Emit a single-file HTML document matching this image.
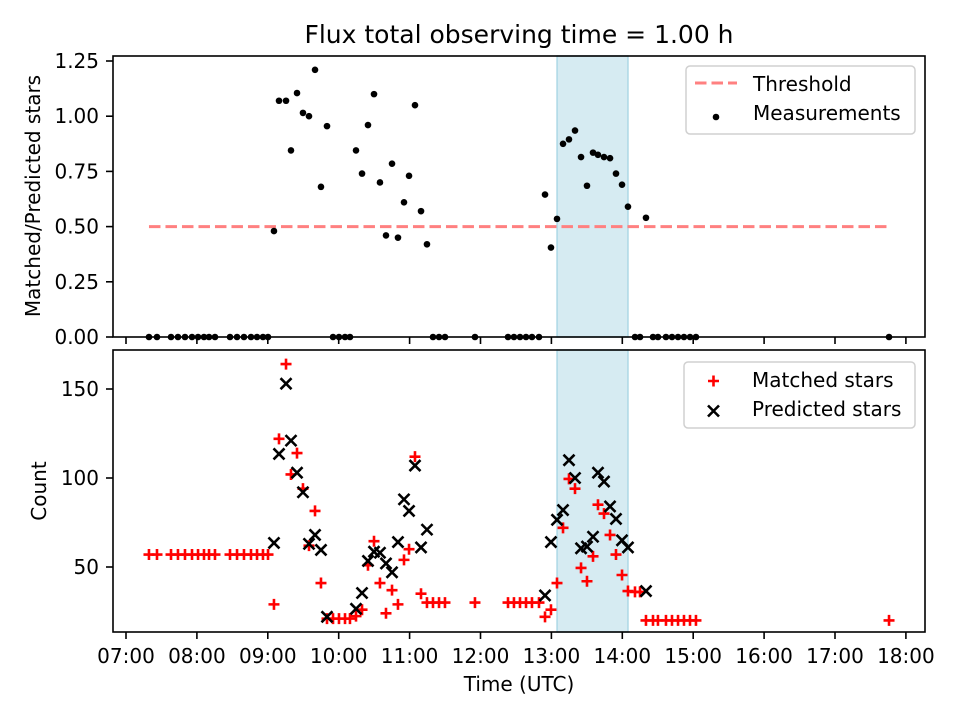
<!DOCTYPE html>
<html><head><meta charset="utf-8"><style>
html,body{margin:0;padding:0;background:#fff;}
svg{display:block;font-family:"DejaVu Sans","Liberation Sans",sans-serif;}
</style></head><body>
<svg id="chart" width="960" height="720" viewBox="0 0 960 720" xmlns="http://www.w3.org/2000/svg">
<rect width="960" height="720" fill="#fff"/>
<text x="519" y="43" font-size="25" text-anchor="middle">Flux total observing time = 1.00 h</text>
<g id="top"></g>
<g id="bottom"></g>
<text x="519" y="691" font-size="20" text-anchor="middle">Time (UTC)</text>
<text transform="translate(40,196) rotate(-90)" font-size="20" text-anchor="middle">Matched/Predicted stars</text>
<text transform="translate(46,491) rotate(-90)" font-size="20" text-anchor="middle">Count</text>
</svg>
<script>
// time in decimal hours
const times = [7.324,7.437,7.635,7.733,7.832,7.931,8.016,8.100,8.171,8.255,8.467,8.566,8.664,8.763,8.848,8.932,9.003,
9.087,9.158,9.257,9.327,9.412,9.496,9.581,9.666,9.750,9.835,
9.920,10.004,10.089,10.159,
10.244,10.329,10.413,10.498,10.582,10.667,10.752,10.836,10.921,10.992,11.076,11.161,11.245,
11.330,11.415,11.499,11.922,
12.388,12.472,12.557,12.642,12.726,12.825,
12.910,12.994,13.079,13.164,13.248,13.333,13.418,13.502,13.587,13.657,13.742,13.827,13.911,13.996,14.080,
14.179,14.250,14.334,
14.433,14.503,14.616,14.701,14.786,14.870,14.955,15.039,
17.762];
const ratios = [0,0,0,0,0,0,0,0,0,0,0,0,0,0,0,0,0,
0.48,1.07,1.07,0.845,1.105,1.015,1.0,1.21,0.68,0.955,
0,0,0,0,
0.845,0.74,0.96,1.10,0.70,0.46,0.785,0.45,0.61,0.73,1.05,0.57,0.42,
0,0,0,0,
0,0,0,0,0,0,
0.645,0.405,0.535,0.875,0.895,0.935,0.815,0.685,0.835,0.825,0.815,0.81,0.74,0.69,0.59,
0,0,0.54,
0,0,0,0,0,0,0,0,
0];
const matched = [57,57,57,57,57,57,57,57,57,57,57,57,57,57,57,57,57,
29,122,164,102,114,94,62,81.5,41,21,
21,21,21,21,
22.4,26,51,64.5,41,24,37,29,54,60,112,35,30,
30,30,30,30,
30,30,30,30,30,30,
22,26,41,72,99.5,94,49.5,42,56,85,80,68,57,45.5,36.5,
36,36,20,
20,20,20,20,20,20,20,20,
20];
const predicted = [null,null,null,null,null,null,null,null,null,null,null,null,null,null,null,null,null,
63.5,113.5,153,121,103,92,63,68,59.6,22,
null,null,null,null,
26.5,35.4,53.4,58.6,58,52,47,64,88,81.5,107,61,71,
null,null,null,null,
null,null,null,null,null,null,
34,64,76.5,82,110,100,60.5,61.5,67,103,98,84,77,65,61,
null,null,36.5,
null,null,null,null,null,null,null,null,
null];
const threshold = [0.5];
const span = [13.08, 14.08];
const xTicks = [7,8,9,10,11,12,13,14,15,16,17,18];
const xTickLabels = ["07:00","08:00","09:00","10:00","11:00","12:00","13:00","14:00","15:00","16:00","17:00","18:00"];
const topTicks = [0,0.25,0.5,0.75,1.0,1.25];
const topTickLabels = ["0.00","0.25","0.50","0.75","1.00","1.25"];
const botTicks = [50,100,150];
const botTickLabels = ["50","100","150"];

const NS="http://www.w3.org/2000/svg";
function el(tag,attrs,parent){const e=document.createElementNS(NS,tag);for(const k in attrs)e.setAttribute(k,attrs[k]);parent.appendChild(e);return e;}
const L=113,R=925;
const x=t=>126+(t-7)*70.9;
const yTop=v=>337-v*220.8;
const yBot=v=>656-v*1.78;
const topG=document.getElementById('top'), botG=document.getElementById('bottom');

function panel(g,T,B,ticks,labels,yf,name){
  // span
  const sp=el('rect',{x:x(span[0]),y:T,width:x(span[1])-x(span[0]),height:B-T,fill:'#add8e6','fill-opacity':0.5,stroke:'#add8e6','stroke-width':1.5},g);
  
  
  xTicks.forEach((t,i)=>{
    const tk=el('line',{x1:x(t),x2:x(t),y1:B,y2:B+7,stroke:'#000','stroke-width':1.6},g);
    
    
    if(name==='bottom'){
      const tl=el('text',{x:x(t),y:663,'font-size':20,'text-anchor':'middle'},g);tl.textContent=xTickLabels[i];
      
      
    }
  });
  ticks.forEach((v,i)=>{
    const tk=el('line',{x1:L-7,x2:L,y1:yf(v),y2:yf(v),stroke:'#000','stroke-width':1.6},g);
    
    
    const tl=el('text',{x:L-14,y:yf(v)+7,'font-size':20,'text-anchor':'end'},g);tl.textContent=labels[i];
    
    
  });
}
panel(topG,56,337,topTicks,topTickLabels,yTop,'top');
panel(botG,350,632,botTicks,botTickLabels,yBot,'bottom');

// threshold
const th=el('line',{x1:x(times[0]),x2:x(times[times.length-1]),y1:yTop(threshold[0]),y2:yTop(threshold[0]),stroke:'#ff8080','stroke-width':3,'stroke-dasharray':'11.5,5'},topG);


// measurements
times.forEach((t,i)=>{
  const c=el('circle',{cx:x(t),cy:yTop(ratios[i]),r:3.3,fill:'#000'},topG);
  
  
});
// matched (+)
times.forEach((t,i)=>{
  const cx=x(t),cy=yBot(matched[i]),s=5.5;
  const p=el('path',{d:`M${cx-s},${cy}H${cx+s}M${cx},${cy-s}V${cy+s}`,stroke:'#ff0000','stroke-width':2.6,fill:'none'},botG);
  
  
});
// predicted (x)
times.forEach((t,i)=>{
  if(predicted[i]===null)return;
  const cx=x(t),cy=yBot(predicted[i]),s=5.5;
  const p=el('path',{d:`M${cx-s},${cy-s}L${cx+s},${cy+s}M${cx-s},${cy+s}L${cx+s},${cy-s}`,stroke:'#000','stroke-width':2.6,fill:'none'},botG);
  
  
});
// frames
[[56,337,'top-axes-frame'],[350,632,'bottom-axes-frame']].forEach(([T,B,n],k)=>{
  const f=el('rect',{x:L,y:T,width:R-L,height:B-T,fill:'none',stroke:'#000','stroke-width':1.6},k?botG:topG);
  
  
});
// legends
const lg1=el('g',{},topG);


el('rect',{x:686,y:66,width:229,height:68,rx:4,fill:'#fff','fill-opacity':0.8,stroke:'#d0d0d0','stroke-width':1.5},lg1);
el('line',{x1:695,x2:737,y1:83,y2:83,stroke:'#ff8080','stroke-width':3,'stroke-dasharray':'11.5,5'},lg1);
const t1=el('text',{x:753,y:91,'font-size':20},lg1);t1.textContent='Threshold';


el('circle',{cx:716,cy:117,r:3.3,fill:'#000'},lg1);
const t2=el('text',{x:753,y:120,'font-size':20},lg1);t2.textContent='Measurements';



const lg2=el('g',{},botG);


el('rect',{x:684,y:362,width:231,height:66,rx:4,fill:'#fff','fill-opacity':0.8,stroke:'#d0d0d0','stroke-width':1.5},lg2);
el('path',{d:'M708,381H719M713.5,375.5V386.5',stroke:'#ff0000','stroke-width':2.6},lg2);
const t3=el('text',{x:752,y:387,'font-size':20},lg2);t3.textContent='Matched stars';


el('path',{d:'M708,405.5L719,416.5M708,416.5L719,405.5',stroke:'#000','stroke-width':2.6},lg2);
const t4=el('text',{x:752,y:416,'font-size':20},lg2);t4.textContent='Predicted stars';


</script>
</body></html>
